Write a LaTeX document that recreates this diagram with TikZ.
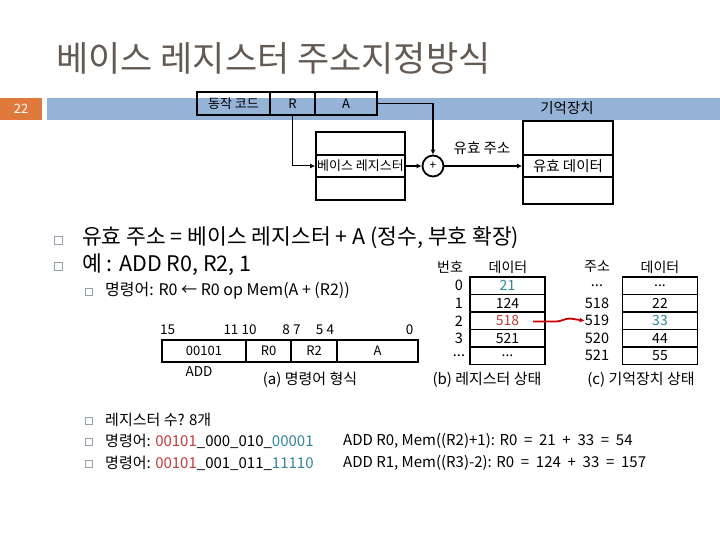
\documentclass[tikz,border=0pt]{standalone}
\usepackage{fontspec}
\setmainfont{Noto Sans CJK KR}
\usetikzlibrary{arrows.meta}
\definecolor{titlegray}{RGB}{100,90,84}
\definecolor{barblue}{RGB}{149,179,215}
\definecolor{numorange}{RGB}{224,122,60}
\definecolor{valred}{RGB}{192,60,60}
\definecolor{valblue}{RGB}{49,133,156}
\definecolor{bulletgray}{RGB}{150,160,170}
\newcommand{\fs}[1]{\fontsize{#1}{#1}\selectfont}
\newcommand{\ellip}{...}
\tikzset{
  field/.style={draw, line width=1.8pt, minimum height=23pt, inner sep=0pt, font=\fs{13}},
  cell/.style={draw, line width=1.8pt, minimum width=75pt, minimum height=17.5pt, inner sep=0pt, font=\fs{14}},
  fmt/.style={draw, line width=1.4pt, minimum height=22pt, inner sep=0pt, font=\fs{13}},
  lbl/.style={inner sep=0pt, font=\fs{14}},
  txt/.style={inner sep=0pt, anchor=west, font=\fs{15}},
  conn/.style={line width=1.8pt, -{Latex[length=5pt,width=5pt]}},
  bullet/.style={draw=bulletgray, line width=0.6pt, minimum size=#1, inner sep=0pt},
}
\begin{document}
\begin{tikzpicture}[x=1pt, y=-1pt]
  \useasboundingbox (0,0) rectangle (720,540);
  % title and bar
  \node[anchor=west, inner sep=0pt, text=titlegray, font=\fs{35}] (title) at (56,58) {베이스 레지스터 주소지정방식};
  \fill[barblue] (47,98) rectangle (720,120);
  \fill[numorange] (0,98) rectangle (42,120);
  \node[text=white, font=\fs{13}] (page) at (21,109) {22};

  % instruction and addressing
  \node[field, minimum width=73pt] (opcode) at (233.5,103.5) {동작 코드};
  \node[field, minimum width=45pt] (regf) at (292.5,103.5) {R};
  \node[field, minimum width=62pt] (addrf) at (346,103.5) {A};
  \draw[line width=1.8pt] (316,132) rectangle (405,200);
  \node[field, minimum width=89pt, minimum height=22pt] (base) at (360.5,166) {베이스 레지스터};
  \node[draw, circle, line width=1.8pt, minimum size=21pt, inner sep=0pt, font=\fs{12}] (plus) at (433,166) {+};
  \draw[line width=1.8pt] (523,121) rectangle (613,204);
  \node[field, minimum width=90pt, minimum height=22pt, font=\fs{14.5}] (effdata) at (568,166) {유효 데이터};
  \node[lbl, font=\fs{14.5}] (memlbl) at (567,108) {기억장치};
  \node[lbl, font=\fs{14.5}] (effaddr) at (482,148) {유효 주소};
  \draw[conn, line width=1pt] (regf.south) |- (base.west);
  \draw[conn] (addrf.east) -| (plus.north);
  \draw[conn] (base.east) -- (plus.west);
  \draw[conn] (plus.east) -- (effdata.west);

  % bullets
  \node[bullet=8pt] (b1) at (58,240) {};
  \node[bullet=8pt] (b2) at (58,266) {};
  \node[txt, font=\fs{21.5}] (t1) at (82,238) {유효 주소 = 베이스 레지스터 + A (정수, 부호 확장)};
  \node[txt, font=\fs{21.5}] (t2) at (82,265) {예 : ADD R0, R2, 1};
  \node[bullet=6.5pt] (b3) at (89,292) {};
  \node[txt, font=\fs{16}] (t3) at (105,291) {명령어: R0 ← R0 op Mem(A + (R2))};

  % instruction format
  \foreach \n/\x in {15/167.5, 11 10/240, 8 7/291.5, 5 4/325, 0/409.5}
    \node[lbl, font=\fs{13.5}] at (\x,330) {\n};
  \node[fmt, minimum width=84pt] (opbits) at (204,351) {00101};
  \node[fmt, minimum width=45pt] (r0bits) at (268.5,351) {R0};
  \node[fmt, minimum width=46pt] (r2bits) at (314,351) {R2};
  \node[fmt, minimum width=81pt] (abits) at (377.5,351) {A};
  \node[lbl, font=\fs{13.5}] (addname) at (199,372) {ADD};
  \node[lbl, font=\fs{15}] (capa) at (310,380) {(a) 명령어 형식};

  % register and memory state
  \node[lbl] (hnum) at (450,267) {번호};
  \node[lbl] (hreg) at (508,267) {데이터};
  \node[lbl] (haddr) at (597,267) {주소};
  \node[lbl] (hmem) at (660,267) {데이터};
  \foreach \i/\n/\v/\c/\a/\m/\d in {0/0/21/valblue/\ellip/black/\ellip, 1/1/124/black/518/black/22, 2/2/518/valred/519/valblue/33, 3/3/521/black/520/black/44, 4/\ellip/\ellip/black/521/black/55} {
    \node[lbl, font=\fs{14.5}] (n\i) at (459,285.75+17.5*\i) {\n};
    \node[cell, text=\c] (r\i) at (507.5,285.75+17.5*\i) {\v};
    \node[lbl, font=\fs{14.5}] (a\i) at (597,285.75+17.5*\i) {\a};
    \node[cell, text=\m] (m\i) at (660,285.75+17.5*\i) {\d};
  }
  \coordinate (src) at (533,321.5);
  \draw[line width=1.8pt, red!80!black, -{Latex[length=5pt,width=5pt]}] (src) -- (556,321.5) to[out=0, in=180] (570,318.5) -- (a2.west);
  \node[lbl, font=\fs{15}] (capb) at (487,380) {(b) 레지스터 상태};
  \node[lbl, font=\fs{15}] (capc) at (641,380) {(c) 기억장치 상태};

  % examples
  \node[bullet=6.5pt] (b4) at (89,421) {};
  \node[bullet=6.5pt] (b5) at (89,442) {};
  \node[bullet=6.5pt] (b6) at (89,464) {};
  \node[txt] (t4) at (105,420) {레지스터 수? 8개};
  \node[txt] (t5) at (105,441) {명령어: \textcolor{valred}{00101}\_000\_010\_\textcolor{valblue}{00001}};
  \node[txt] (t6) at (105,463) {명령어: \textcolor{valred}{00101}\_001\_011\_\textcolor{valblue}{11110}};
  \node[txt] (t7) at (343,441) {ADD R0, Mem((R2)+1): R0 \ = \ 21 \ + \ 33 \ = \ 54};
  \node[txt] (t8) at (343,463) {ADD R1, Mem((R3)-2): R0 \ = \ 124 \ + \ 33 \ = \ 157};
\end{tikzpicture}
\end{document}
